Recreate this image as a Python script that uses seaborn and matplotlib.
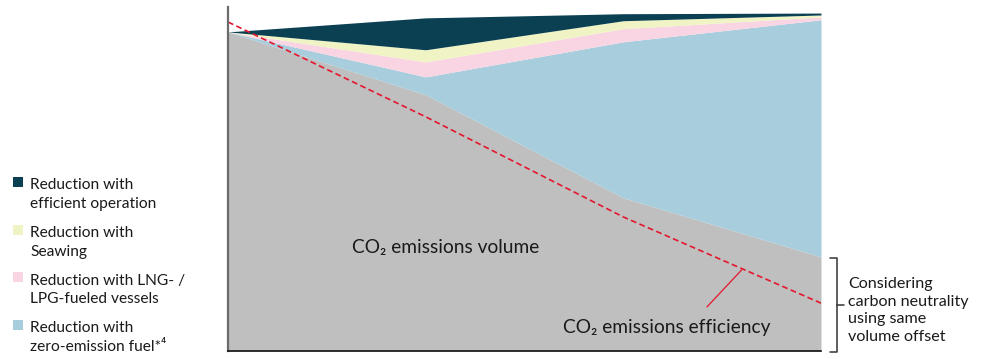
import matplotlib
matplotlib.use("Agg")
import matplotlib.pyplot as plt
from matplotlib.patches import Rectangle
from matplotlib.lines import Line2D
import numpy as np
import pandas as pd
import seaborn as sns

sns.set_theme(style="white")
plt.rcParams['font.family'] = ['Lato', 'DejaVu Sans']

# data (CO2 volume at start = 100)
stage           = [0, 1, 2, 3]
volume          = [100.0, 80.3, 48.0, 29.5]   # CO2 emissions volume
zero_emission   = [0.0, 5.6, 48.9, 74.3]
lng_lpg         = [0.0, 4.7, 4.1, 0.9]
seawing         = [0.0, 3.8, 2.5, 0.6]
efficient_op    = [0.0, 10.0, 2.2, 0.6]
efficiency      = [103.1, 73.4, 42.0, 15.0]   # CO2 emissions efficiency (dashed)

layer_colors = ['#bebfbe', '#a8cddc', '#f9d5e3', '#f0f4c4', '#0a4052']
legend_labels = ['Reduction with\nefficient operation',
                 'Reduction with\nSeawing',
                 'Reduction with LNG- /\nLPG-fueled vessels',
                 'Reduction with\nzero-emission fuel*⁴']
legend_colors = ['#0a4052', '#f0f4c4', '#f9d5e3', '#a8cddc']

W, H = 987, 359
fig = plt.figure(figsize=(W / 100, H / 100), dpi=100)
ax = fig.add_axes([228 / W, 8 / H, (821 - 228) / W, (351 - 7) / H])

ax.stackplot(stage, volume, zero_emission, lng_lpg, seawing, efficient_op,
             colors=layer_colors, linewidth=0)

df = pd.DataFrame({'stage': stage, 'efficiency': efficiency})
sns.lineplot(data=df, x='stage', y='efficiency', ax=ax, color='#e5172f',
             linewidth=1.2, linestyle=(0, (3.5, 2)))

ax.set_xlim(0, 3)
ax.set_ylim(0, 107.8)
ax.set_xticks([])
ax.set_yticks([])
ax.set_xlabel('')
ax.set_ylabel('')
for s in ['top', 'right']:
    ax.spines[s].set_visible(False)
ax.spines['left'].set_color('#6b6b6b')
ax.spines['left'].set_linewidth(1.6)
ax.spines['bottom'].set_color('#111111')
ax.spines['bottom'].set_linewidth(1.2)

ax.text(0.627, 30.7, 'CO₂ emissions volume', fontsize=13.8, color='#1a1a1a',
        va='baseline', ha='left')
ax.text(1.695, 5.6, 'CO₂ emissions efficiency', fontsize=13.8, color='#1a1a1a',
        va='baseline', ha='left')
ax.plot([2.423, 2.60], [13.8, 25.5], color='#e5172f', linewidth=0.9)


def fx(x):
    return x / W


def fy(y):
    return 1 - y / H


# bracket on the right
bk = dict(color='#333333', linewidth=1.1, transform=fig.transFigure)
fig.add_artist(Line2D([fx(830), fx(837), fx(837), fx(830)],
                      [fy(258), fy(258), fy(352), fy(352)], **bk))
fig.add_artist(Line2D([fx(837), fx(844)], [fy(305), fy(305)], **bk))
# multi-line text with va='baseline' sits on the baseline of its last line
fig.text(fx(848), fy(341), 'Considering\ncarbon neutrality\nusing same\nvolume offset',
         fontsize=11.6, color='#1a1a1a', va='baseline', ha='left', linespacing=1.33)

# legend on the left
for i, (lab, col) in enumerate(zip(legend_labels, legend_colors)):
    top = 177 + i * 47.7
    fig.add_artist(Rectangle((fx(13), fy(top + 10)), 10 / W, 10 / H,
                             transform=fig.transFigure, color=col, linewidth=0))
    fig.text(fx(30), fy(top + 31), lab, fontsize=11.2, color='#1a1a1a',
             va='baseline', ha='left', linespacing=1.42)

fig.savefig('out.png', dpi=100)
